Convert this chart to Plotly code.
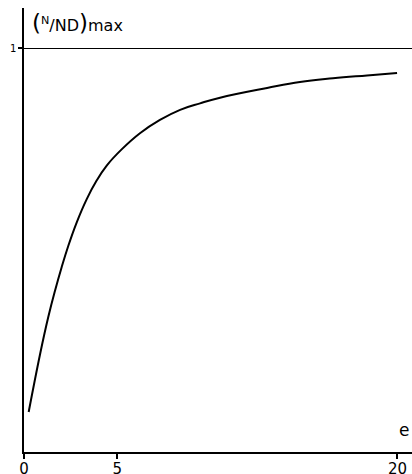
import plotly.graph_objects as go

# Data
e_vals = [0.25, 0.86, 1.30, 1.66, 2.02, 2.37, 2.82, 3.36, 3.89, 4.43, 5.23,
          6.21, 7.28, 8.36, 9.43, 10.50, 13.02, 14.78, 16.55, 18.37, 19.98]
n_ratio = [0.099, 0.242, 0.334, 0.399, 0.458, 0.510, 0.568, 0.626, 0.672, 0.709, 0.749,
           0.789, 0.822, 0.847, 0.863, 0.877, 0.901, 0.916, 0.925, 0.932, 0.938]
x_ticks = [0, 5, 20]
x_tick_labels = ["0", "5", "20"]
y_ticks = [1]
y_tick_labels = ["1"]

fig = go.Figure()
fig.add_trace(go.Scatter(
    x=e_vals, y=n_ratio, mode="lines",
    line=dict(color="black", width=2, shape="spline", smoothing=1.2),
    showlegend=False, hoverinfo="skip",
))

fig.update_layout(
    width=412, height=474,
    margin=dict(l=24, r=0, t=8, b=22, autoexpand=False),
    paper_bgcolor="white", plot_bgcolor="white",
    font=dict(family="DejaVu Sans", color="black"),
    xaxis=dict(
        range=[0, 20.78], tickvals=x_ticks, ticktext=x_tick_labels,
        showline=True, linecolor="black", linewidth=1.5,
        ticks="outside", ticklen=5, tickcolor="black", tickwidth=1.5,
        showgrid=False, zeroline=False, automargin=False,
        ticklabelstandoff=-3,
        tickfont=dict(size=15, family="DejaVu Sans"),
    ),
    yaxis=dict(
        range=[0, 1.099], tickvals=y_ticks, ticktext=y_tick_labels,
        showline=True, linecolor="black", linewidth=1.5,
        ticks="outside", ticklen=4, tickcolor="black", tickwidth=1.5,
        showgrid=True, gridcolor="black", gridwidth=1.2,
        zeroline=False, automargin=False,
        tickfont=dict(size=10, family="DejaVu Sans"),
    ),
)

fig.add_annotation(
    text='<span style="font-size:23px">(</span><sup>N</sup>/ND<span style="font-size:23px">)</span>max',
    xref="paper", yref="paper",
    x=0.015, y=1.0, xanchor="left", yanchor="top",
    showarrow=False, font=dict(size=16, family="DejaVu Sans", color="black"),
)
fig.add_annotation(
    text="e", xref="x", yref="y",
    x=20.35, y=0.055, xanchor="center", yanchor="middle",
    showarrow=False, font=dict(size=17, family="DejaVu Sans", color="black"),
)

fig.write_html("out.html", config={"displayModeBar": False},
               post_script="document.body.style.margin='0';")
